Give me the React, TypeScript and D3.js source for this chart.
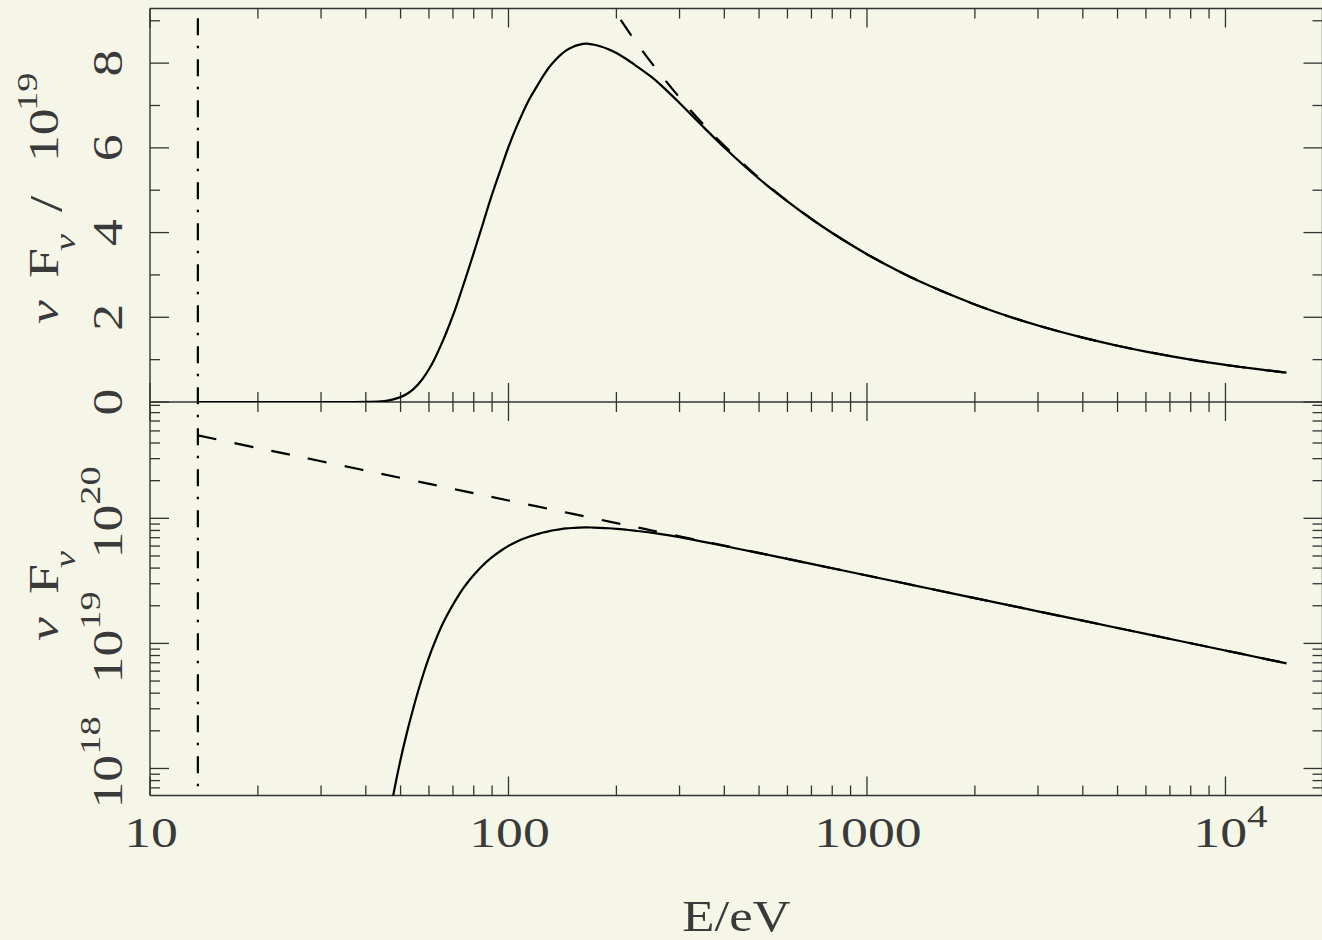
import React from "react";
import * as d3 from "d3";

// Photon energy grid (eV) and the absorbed spectrum nu F_nu (units of 1e19)
const photonEnergy = [13.6, 20, 30, 35, 40, 44, 46, 48, 50, 52, 54, 56, 58, 60, 62, 65, 67, 70, 72, 75, 77, 80, 82, 85, 87, 90, 95, 100, 105, 110, 115, 120, 125, 130, 135, 140, 145, 150, 157, 165, 172, 180, 190, 200, 212, 225, 250, 275, 300, 350, 400, 500, 600, 700, 800, 1000, 1250, 1500, 2000, 2500, 3000, 4000, 5000, 6000, 8000, 10000, 12000, 14800];
const absorbedFlux = [0, 0, 0, 0.00003, 0.0017, 0.0148, 0.034, 0.067, 0.118, 0.19, 0.288, 0.418, 0.58, 0.772, 0.992, 1.366, 1.629, 2.043, 2.336, 2.787, 3.084, 3.52, 3.81, 4.23, 4.51, 4.9, 5.48, 6.02, 6.47, 6.86, 7.19, 7.45, 7.7, 7.91, 8.07, 8.2, 8.3, 8.37, 8.43, 8.46, 8.44, 8.4, 8.33, 8.24, 8.11, 7.96, 7.68, 7.37, 7.06, 6.49, 6.01, 5.27, 4.735, 4.32, 3.99, 3.49, 3.053, 2.737, 2.303, 2.014, 1.805, 1.519, 1.329, 1.191, 1.002, 0.877, 0.786, 0.693];

// Unabsorbed power law (dashed), same units
const powerLawEnergy = [13.6, 20, 30, 50, 75, 100, 150, 175, 200, 225, 250, 300, 350, 400, 500, 600, 700, 800, 1000, 1250, 1500, 2000, 2500, 3000, 4000, 5000, 6000, 8000, 10000, 12000, 14800];
const powerLawFlux = [46.0, 36.49, 28.61, 21.06, 16.51, 13.89, 10.895, 9.93, 9.167, 8.541, 8.018, 7.187, 6.55, 6.048, 5.29, 4.742, 4.323, 3.99, 3.49, 3.053, 2.737, 2.303, 2.014, 1.805, 1.519, 1.329, 1.191, 1.002, 0.877, 0.786, 0.693];

// Ionisation threshold (dash-dot)
const thresholdEnergy = [13.6];

// Axis ticks
const xMajor = [10, 100, 1000, 10000];
const xLabels = [
  { b: "10", s: "" },
  { b: "100", s: "" },
  { b: "1000", s: "" },
  { b: "10", s: "4" },
];
const yTopMajor = [0, 2, 4, 6, 8];
const yTopMinor = [1, 3, 5, 7, 9];
const yTopLabels = ["0", "2", "4", "6", "8"];
const yBotMajor = [0.1, 1, 10];
const yBotLabels = [
  { b: "10", s: "18" },
  { b: "10", s: "19" },
  { b: "10", s: "20" },
];

const W = 1322;
const H = 940;
const L = 150;
const R = 1322.5;
const T = 8.5;
const M = 402;
const B = 795.5;
const BG = "#f5f6e7";
const INK = "#333333";
const TXT = "#3a3a3a";
const FONT = "'Liberation Serif', 'Times New Roman', serif";
const SX = 1.28;
const MAJ = 19;
const MIN = 10;

export default function App() {
  const x = d3.scaleLog().domain([10, 18650]).range([L, R]);
  const yTop = d3.scaleLinear().domain([0, 9.29]).range([M, T]);
  const yBot = d3
    .scaleLog()
    .domain([Math.pow(10, -1.216), Math.pow(10, 1.93)])
    .range([B, M]);

  const xMinor: number[] = [];
  [10, 100, 1000, 10000].forEach((d) => {
    for (let k = 2; k <= 9; k++) {
      const v = k * d;
      if (x(v) < R - 1) xMinor.push(v);
    }
  });
  const yBotMinor: number[] = [];
  [0.01, 0.1, 1, 10].forEach((d) => {
    for (let k = 2; k <= 9; k++) {
      const v = k * d;
      const yy = yBot(v);
      if (yy <= B && yy >= M) yBotMinor.push(v);
    }
  });

  const solid = photonEnergy.map((e, i) => [e, absorbedFlux[i]] as [number, number]);
  const dashed = powerLawEnergy.map((e, i) => [e, powerLawFlux[i]] as [number, number]);

  const lineTop = d3
    .line<[number, number]>()
    .x((d) => x(d[0]))
    .y((d) => yTop(d[1]))
    .curve(d3.curveCatmullRom.alpha(0.5));
  const lineBot = d3
    .line<[number, number]>()
    .x((d) => x(d[0]))
    .y((d) => yBot(d[1]))
    .curve(d3.curveCatmullRom.alpha(0.5));

  const solidBot = solid.filter((d) => d[1] > 0.001);

  const tick = (x1: number, y1: number, x2: number, y2: number, key: string) => (
    <line key={key} x1={x1} y1={y1} x2={x2} y2={y2} stroke={INK} strokeWidth={1.3} />
  );

  const ticks: React.ReactNode[] = [];
  xMajor.forEach((v, i) => {
    const px = x(v);
    ticks.push(tick(px, T, px, T + MAJ, `xt${i}`));
    ticks.push(tick(px, M - MAJ, px, M + MAJ, `xm${i}`));
    ticks.push(tick(px, B - MAJ, px, B, `xb${i}`));
  });
  xMinor.forEach((v, i) => {
    const px = x(v);
    ticks.push(tick(px, T, px, T + MIN, `xtn${i}`));
    ticks.push(tick(px, M - MIN, px, M + MIN, `xmn${i}`));
    ticks.push(tick(px, B - MIN, px, B, `xbn${i}`));
  });
  yTopMajor.forEach((v, i) => {
    const py = yTop(v);
    ticks.push(tick(L, py, L + MAJ, py, `ytl${i}`));
    ticks.push(tick(R - MAJ, py, R, py, `ytr${i}`));
  });
  yTopMinor.forEach((v, i) => {
    const py = yTop(v);
    ticks.push(tick(L, py, L + MIN, py, `ytln${i}`));
    ticks.push(tick(R - MIN, py, R, py, `ytrn${i}`));
  });
  yBotMajor.forEach((v, i) => {
    const py = yBot(v);
    ticks.push(tick(L, py, L + MAJ, py, `ybl${i}`));
    ticks.push(tick(R - MAJ, py, R, py, `ybr${i}`));
  });
  yBotMinor.forEach((v, i) => {
    const py = yBot(v);
    ticks.push(tick(L, py, L + MIN, py, `ybln${i}`));
    ticks.push(tick(R - MIN, py, R, py, `ybrn${i}`));
  });

  const txt = { fontFamily: FONT, fill: TXT } as const;
  const rot = (bx: number, by: number) => `translate(${bx},${by}) rotate(-90) scale(${SX},1)`;

  return (
    <svg
      width={W}
      height={H}
      style={{ position: "absolute", left: 0, top: 0, display: "block" }}
    >
      <rect x={0} y={0} width={W} height={H} fill={BG} />
      <defs>
        <clipPath id="clipTop">
          <rect x={L} y={T} width={R - L} height={M - T} />
        </clipPath>
        <clipPath id="clipBot">
          <rect x={L} y={M} width={R - L} height={B - M} />
        </clipPath>
      </defs>

      {/* frame */}
      <g stroke={INK} strokeWidth={1.4} fill="none">
        <line x1={L} y1={T} x2={R} y2={T} />
        <line x1={L} y1={M} x2={R} y2={M} />
        <line x1={L} y1={B} x2={R} y2={B} />
        <line x1={L} y1={T} x2={L} y2={B} />
        <line x1={R} y1={T} x2={R} y2={B} />
      </g>
      {ticks}

      {/* data: top (linear) */}
      <g clipPath="url(#clipTop)" fill="none" stroke="#000" strokeWidth={2.2}>
        <path d={lineTop(dashed) || ""} strokeDasharray="19 19" />
        <path d={lineTop(solid) || ""} />
      </g>
      {/* data: bottom (log) */}
      <g clipPath="url(#clipBot)" fill="none" stroke="#000" strokeWidth={2.2}>
        <path d={lineBot(dashed) || ""} strokeDasharray="19 18.5" />
        <path d={lineBot(solidBot) || ""} />
      </g>

      {/* threshold */}
      {thresholdEnergy.map((e, i) => (
        <line
          key={`th${i}`}
          x1={x(e)}
          x2={x(e)}
          y1={T}
          y2={B}
          stroke="#000"
          strokeWidth={2.2}
          strokeDasharray="17 10.5 2.5 11"
          strokeDashoffset={31.2}
        />
      ))}

      {/* x tick labels */}
      {xMajor.map((v, i) => (
        <text
          key={`xl${i}`}
          transform={`translate(${x(v) + (xLabels[i].s ? 5 : 1)},847) scale(${SX},1)`}
          textAnchor="middle"
          fontSize={42}
          {...txt}
        >
          {xLabels[i].b}
          {xLabels[i].s ? (
            <tspan dy={-20} fontSize={32}>
              {xLabels[i].s}
            </tspan>
          ) : null}
        </text>
      ))}

      {/* top y tick labels */}
      {yTopMajor.map((v, i) => (
        <text
          key={`ytl${i}`}
          transform={rot(122, yTop(v))}
          textAnchor="middle"
          fontSize={42}
          {...txt}
        >
          {yTopLabels[i]}
        </text>
      ))}

      {/* bottom y tick labels */}
      {yBotMajor.map((v, i) => (
        <text
          key={`ybl${i}`}
          transform={rot(122, yBot(v) - 6)}
          textAnchor="middle"
          fontSize={42}
          {...txt}
        >
          {yBotLabels[i].b}
          <tspan dy={-22} fontSize={30}>
            {yBotLabels[i].s}
          </tspan>
        </text>
      ))}

      {/* top y axis title: nu F_nu / 10^19 */}
      <g {...txt}>
        <text transform={rot(58, 324)} fontSize={42} fontStyle="italic">ν</text>
        <text transform={rot(58, 278)} fontSize={42}>F</text>
        <text transform={rot(75, 251)} fontSize={30} fontStyle="italic">ν</text>
        <text transform={rot(62, 212)} fontSize={46}>/</text>
        <text transform={rot(58, 162)} fontSize={42}>10</text>
        <text transform={rot(37, 111)} fontSize={30}>19</text>
      </g>

      {/* bottom y axis title: nu F_nu */}
      <g {...txt}>
        <text transform={rot(58, 641)} fontSize={42} fontStyle="italic">ν</text>
        <text transform={rot(58, 594)} fontSize={42}>F</text>
        <text transform={rot(75, 568)} fontSize={30} fontStyle="italic">ν</text>
      </g>

      {/* x axis title */}
      <text
        transform={`translate(736.5,931) scale(1.2,1)`}
        textAnchor="middle"
        fontSize={44}
        {...txt}
      >
        E/eV
      </text>
    </svg>
  );
}
